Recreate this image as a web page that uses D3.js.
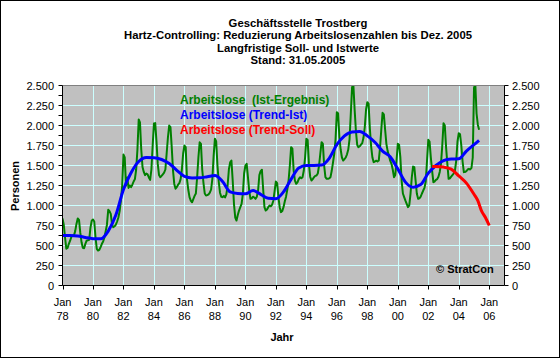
<!DOCTYPE html>
<html><head><meta charset="utf-8">
<script src="https://cdn.jsdelivr.net/npm/d3@7"></script>
<style>
body{margin:0;background:#fff}
svg{display:block;font-family:Arial,"Liberation Sans",sans-serif}
</style>
</head><body>
<svg id="c" width="560" height="358"></svg>
<script>
// ---------- DATA ----------
const titleLines = [
  "Geschäftsstelle Trostberg",
  "Hartz-Controlling: Reduzierung Arbeitslosenzahlen bis Dez. 2005",
  "Langfristige Soll- und Istwerte",
  "Stand: 31.05.2005"
];
const seriesNames = ["Arbeitslose  (Ist-Ergebnis)", "Arbeitslose (Trend-Ist)", "Arbeitslose (Trend-Soll)"];
const yTicks = [0, 250, 500, 750, 1000, 1250, 1500, 1750, 2000, 2250, 2500];
const yMinorTicks = [125, 375, 625, 875, 1125, 1375, 1625, 1875, 2125, 2375];
const xTickYears = [1978, 1980, 1982, 1984, 1986, 1988, 1990, 1992, 1994, 1996, 1998, 2000, 2002, 2004, 2006];
const xTickMonth = "Jan";

// Ist-Ergebnis: monthly values, starting January 1978
const istStartYear = 1978;
const istValues = [
  837, 760, 600, 460, 470, 521, 560, 610, 625, 625, 680, 770,       // 1978
  837, 820, 660, 540, 470, 465, 520, 560, 565, 570, 720, 810,       // 1979
  825, 800, 600, 458, 437, 445, 480, 521, 550, 600, 680, 760,       // 1980
  946, 930, 896, 760, 729, 740, 760, 800, 850, 930, 1060, 1250,     // 1981
  1637, 1600, 1250, 1350, 1220, 1250, 1230, 1260, 1300, 1330, 1450, 1700, // 1982
  2075, 2040, 1700, 1480, 1420, 1380, 1400, 1390, 1350, 1320, 1450, 1750, // 1983
  2025, 2030, 1800, 1520, 1380, 1354, 1370, 1390, 1410, 1450, 1650, 1850, // 1984
  2000, 1980, 1730, 1440, 1270, 1210, 1230, 1260, 1280, 1330, 1450, 1650, // 1985
  1750, 1730, 1330, 1200, 1104, 1060, 1040, 1080, 1120, 1150, 1350, 1600, // 1986
  1790, 1770, 1450, 1280, 1150, 1125, 1130, 1140, 1160, 1200, 1333, 1620, // 1987
  1835, 1800, 1500, 1300, 1160, 1110, 1104, 1120, 1100, 1140, 1250, 1450, // 1988
  1540, 1562, 1312, 1021, 850, 812, 880, 937, 980, 1021, 1146, 1400,      // 1989
  1500, 1521, 1354, 1187, 1083, 1090, 1110, 1100, 1083, 1110, 1187, 1380, // 1990
  1430, 1446, 1200, 979, 937, 950, 979, 1000, 990, 1010, 1060, 1180,      // 1991
  1300, 1280, 1104, 979, 917, 930, 979, 1050, 1110, 1200, 1312, 1500,     // 1992
  1729, 1710, 1437, 1312, 1271, 1290, 1330, 1354, 1340, 1354, 1437, 1600, // 1993
  1833, 1820, 1520, 1360, 1312, 1330, 1354, 1370, 1375, 1400, 1500, 1650, // 1994
  1792, 1770, 1500, 1354, 1333, 1333, 1340, 1354, 1437, 1540, 1650, 1830, // 1995
  2167, 2150, 1850, 1700, 1600, 1562, 1580, 1600, 1640, 1700, 1830, 2150, // 1996
  2480, 2510, 2200, 1937, 1760, 1729, 1740, 1760, 1780, 1850, 1980, 2200, // 1997
  2292, 2270, 1960, 1740, 1600, 1542, 1550, 1560, 1550, 1562, 1720, 1950, // 1998
  2158, 2140, 1950, 1771, 1680, 1625, 1560, 1521, 1450, 1354, 1380, 1560, // 1999
  1771, 1760, 1604, 1312, 1150, 1104, 1060, 1020, 979, 1000, 1146, 1350,  // 2000
  1487, 1480, 1312, 1146, 1083, 1090, 1110, 1150, 1187, 1220, 1300, 1560, // 2001
  1821, 1800, 1600, 1437, 1292, 1300, 1320, 1330, 1360, 1420, 1520, 1750, // 2002
  2029, 2000, 1729, 1520, 1333, 1340, 1360, 1380, 1400, 1440, 1560, 1800, // 2003
  1904, 1890, 1750, 1550, 1417, 1420, 1430, 1450, 1458, 1450, 1470, 1600, // 2004
  2470, 2520, 2150, 2010, 1946                                            // 2005
];

// Trend-Ist (smoothed), decimal years
const trendIstYears = [1978.0, 1978.5, 1979.0, 1979.5, 1980.0, 1980.5, 1981.0, 1981.5, 1982.0, 1982.5,
  1983.0, 1983.5, 1984.0, 1984.5, 1985.0, 1985.5, 1986.0, 1986.5, 1987.0, 1987.5,
  1988.0, 1988.5, 1989.0, 1989.5, 1990.0, 1990.5, 1991.0, 1991.5, 1992.0, 1992.5,
  1993.0, 1993.5, 1994.0, 1994.5, 1995.0, 1995.5, 1996.0, 1996.5, 1997.0, 1997.5,
  1998.0, 1998.5, 1999.0, 1999.5, 2000.0, 2000.5, 2001.0, 2001.5, 2002.0, 2002.5,
  2003.0, 2003.5, 2004.0, 2004.5, 2005.0, 2005.33];
const trendIstValues = [625, 625, 620, 600, 585, 583, 680, 880, 1200, 1410,
  1550, 1600, 1598, 1575, 1525, 1440, 1365, 1345, 1346, 1360,
  1375, 1300, 1170, 1150, 1146, 1187, 1140, 1090, 1085, 1170,
  1330, 1470, 1500, 1500, 1505, 1590, 1760, 1870, 1920, 1925,
  1870, 1790, 1680, 1610, 1458, 1292, 1229, 1262, 1404, 1500,
  1562, 1580, 1583, 1680, 1760, 1815];

// Trend-Soll (target), decimal years
const trendSollYears = [2002.25, 2002.5, 2003.0, 2003.5, 2004.0, 2004.5, 2005.0, 2005.25, 2005.5, 2005.75, 2006.0];
const trendSollValues = [1487, 1487, 1480, 1455, 1370, 1280, 1140, 1060, 930, 850, 750];

// ---------- DRAWING ----------
const svg = d3.select("#c");
const W = 560, H = 358;
const L = 62.5, R = 504.5, T = 85.5, B = 285.5;
const x = d3.scaleLinear().domain([1978, 2007]).range([L, R]);
const y = d3.scaleLinear().domain([0, 2500]).range([B, T]);
const deFmt = d3.formatLocale({decimal: ",", thousands: ".", grouping: [3], currency: ["", "€"]}).format(",d");

svg.append("rect").attr("x", 0.5).attr("y", 0.5).attr("width", W - 1).attr("height", H - 1)
  .attr("fill", "#fff").attr("stroke", "#000");

svg.append("rect").attr("x", L).attr("y", T).attr("width", R - L).attr("height", B - T)
  .attr("fill", "#C0C0C0");

// gridlines
const grid = svg.append("g").attr("stroke", "#CCFFFF").attr("stroke-width", 1);
grid.selectAll(".hg").data(yTicks.filter(v => v > 0 && v < 2500)).join("line")
  .attr("x1", L).attr("x2", R).attr("y1", d => y(d)).attr("y2", d => y(d));
grid.selectAll(".vg").data(xTickYears.filter(v => v > 1978)).join("line")
  .attr("y1", T).attr("y2", B).attr("x1", d => Math.round(x(d)) + 0.5).attr("x2", d => Math.round(x(d)) + 0.5);

// clip
svg.append("clipPath").attr("id", "pc").append("rect")
  .attr("x", L).attr("y", T - 0.5).attr("width", R - L).attr("height", B - T + 0.5);

const ist = istValues.map((v, i) => [istStartYear + i / 12, v]);
const tIst = trendIstYears.map((t, i) => [t, trendIstValues[i]]);
const tSoll = trendSollYears.map((t, i) => [t, trendSollValues[i]]);

const lineStraight = d3.line().x(d => x(d[0])).y(d => y(d[1]));
const lineSmooth = d3.line().x(d => x(d[0])).y(d => y(d[1])).curve(d3.curveMonotoneX);

const dataG = svg.append("g").attr("clip-path", "url(#pc)").attr("fill", "none");
dataG.append("path").datum(ist).attr("d", lineStraight)
  .attr("stroke", "#008000").attr("stroke-width", 2).attr("stroke-linejoin", "round");
dataG.append("path").datum(tIst).attr("d", lineSmooth)
  .attr("stroke", "#0000FF").attr("stroke-width", 3);
dataG.append("path").datum(tSoll).attr("d", lineSmooth)
  .attr("stroke", "#FF0000").attr("stroke-width", 3);

// plot border top (gray) and axes (black)
svg.append("line").attr("x1", L).attr("x2", R).attr("y1", T).attr("y2", T).attr("stroke", "#808080");
const axG = svg.append("g").attr("stroke", "#000").attr("stroke-width", 1);
axG.append("line").attr("x1", L).attr("x2", L).attr("y1", T).attr("y2", B);
axG.append("line").attr("x1", R).attr("x2", R).attr("y1", T).attr("y2", B);
axG.append("line").attr("x1", L).attr("x2", R).attr("y1", B).attr("y2", B);
// y ticks (major + minor) both sides
const allY = yTicks.concat(yMinorTicks);
axG.selectAll(".ytl").data(allY).join("line")
  .attr("x1", L - 4).attr("x2", L).attr("y1", d => y(d)).attr("y2", d => y(d));
axG.selectAll(".ytr").data(allY).join("line")
  .attr("x1", R).attr("x2", R + 4).attr("y1", d => y(d)).attr("y2", d => y(d));
// x ticks
axG.selectAll(".xt").data(xTickYears).join("line")
  .attr("x1", d => Math.round(x(d)) + 0.5).attr("x2", d => Math.round(x(d)) + 0.5)
  .attr("y1", B).attr("y2", B + 4);

// tick labels
const tl = svg.append("g").attr("font-size", "11px").attr("fill", "#000");
tl.selectAll(".yl").data(yTicks).join("text")
  .attr("x", 54).attr("y", d => y(d) + 4).attr("text-anchor", "end").text(d => deFmt(d));
tl.selectAll(".yr").data(yTicks).join("text")
  .attr("x", 512).attr("y", d => y(d) + 4).attr("text-anchor", "start").text(d => deFmt(d));
tl.selectAll(".xl1").data(xTickYears).join("text")
  .attr("x", d => x(d)).attr("y", 306).attr("text-anchor", "middle").text(xTickMonth);
tl.selectAll(".xl2").data(xTickYears).join("text")
  .attr("x", d => x(d)).attr("y", 320).attr("text-anchor", "middle").text(d => String(d).slice(2));

// title
svg.append("g").attr("font-size", "11.3px").attr("font-weight", "bold")
  .selectAll("text").data(titleLines).join("text")
  .attr("x", 298).attr("y", (d, i) => 27 + i * 12.4).attr("text-anchor", "middle").text(d => d);

// axis titles
svg.append("text").attr("font-size", "11px").attr("font-weight", "bold")
  .attr("transform", "translate(19,186) rotate(-90)").attr("text-anchor", "middle").text("Personen");
svg.append("text").attr("font-size", "11px").attr("font-weight", "bold")
  .attr("x", 282).attr("y", 341).attr("text-anchor", "middle").text("Jahr");

// legend
const legColors = ["#008000", "#0000FF", "#FF0000"];
svg.append("g").attr("font-size", "12px").attr("font-weight", "bold")
  .selectAll("text").data(seriesNames).join("text")
  .attr("x", 180).attr("y", (d, i) => 104 + i * 15)
  .attr("fill", (d, i) => legColors[i]).style("white-space", "pre").text(d => d);

// copyright
svg.append("text").attr("font-size", "11px").attr("font-weight", "bold")
  .attr("x", 436).attr("y", 273).text("© StratCon");
</script>
</body></html>
